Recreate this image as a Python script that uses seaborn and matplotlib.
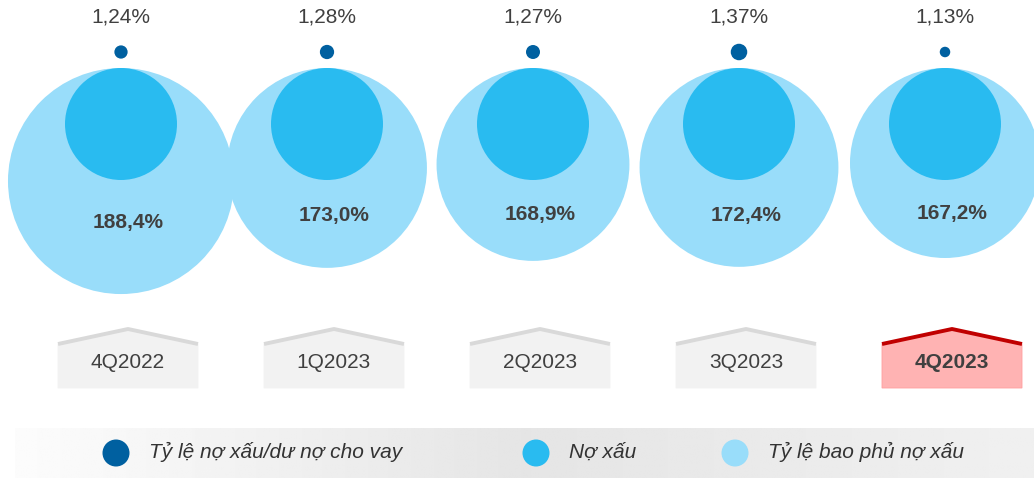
import numpy as np
import matplotlib.pyplot as plt
import seaborn as sns
from matplotlib.patches import Circle, Polygon

sns.set_theme(style="white")
plt.rcParams['font.family'] = ['Liberation Sans', 'DejaVu Sans']

# data
quarters = ['4Q2022', '1Q2023', '2Q2023', '3Q2023', '4Q2023']
npl_ratio = [1.24, 1.28, 1.27, 1.37, 1.13]          # Tỷ lệ nợ xấu/dư nợ cho vay (%)
coverage = [188.4, 173.0, 168.9, 172.4, 167.2]      # Tỷ lệ bao phủ nợ xấu (%)
legend_labels = ['Tỷ lệ nợ xấu/dư nợ cho vay', 'Nợ xấu', 'Tỷ lệ bao phủ nợ xấu']

dark, mid, light = '#0060a0', '#29bbf0', '#99ddfa'
txt = '#404040'

def fmt(v, d):
    return f'{v:.{d}f}'.replace('.', ',') + '%'

fig = plt.figure(figsize=(10.34, 4.78), dpi=100)
ax = fig.add_axes([0, 0, 1, 1])
ax.set_xlim(0, 1034)
ax.set_ylim(478, 0)
ax.set_aspect('equal')
ax.axis('off')

step = 206
for i, q in enumerate(quarters):
    cx = 121 + i * step
    # coverage bubble, tangent at top with the NPL bubble
    r_big = 95 + (coverage[i] - 167.2) * 0.85
    ax.add_patch(Circle((cx, 68 + r_big), r_big, color=light, lw=0, zorder=1))
    ax.add_patch(Circle((cx, 124), 56, color=mid, lw=0, zorder=2))
    r_dot = 7 + 12.5 * (npl_ratio[i] - 1.27)
    ax.add_patch(Circle((cx, 52), r_dot, color=dark, lw=0, zorder=3))

    ax.text(cx, 17, fmt(npl_ratio[i], 2), ha='center', va='center', fontsize=15, color=txt)
    ax.text(cx + 7, 216 + (r_big - 100) * 0.5, fmt(coverage[i], 1), ha='center',
            va='center', fontsize=15, fontweight='bold', color=txt, zorder=4)

    # house-shaped period label
    hx = cx + 7
    x0, x1 = hx - 70, hx + 70
    last = i == len(quarters) - 1
    face = '#ffb3b3' if last else '#f2f2f2'
    roof = '#c00000' if last else '#d9d9d9'
    ax.add_patch(Polygon([(x0, 388), (x0, 344), (hx, 329), (x1, 344), (x1, 388)],
                         closed=True, facecolor=face, edgecolor='#ff9f9f' if last else '#f2f2f2',
                         lw=0.6, zorder=1))
    ax.plot([x0, hx, x1], [344, 329, 344], color=roof, lw=2.8, solid_capstyle='butt', zorder=2)
    ax.text(hx, 363, q, ha='center', va='center', fontsize=15, color=txt,
            fontweight='bold' if last else 'normal', zorder=3)

# legend band with soft gradient
xs = np.linspace(0, 1, 400)
shade = np.interp(xs, [0, 0.5, 1], [252, 229, 240]) / 255
grad = np.tile(shade, (2, 1))
ax.imshow(grad, cmap='gray', vmin=0, vmax=1, extent=(15, 1034, 478, 428),
          aspect='auto', zorder=0)
ax.set_xlim(0, 1034)
ax.set_ylim(478, 0)

for lx, col, lab in zip([116, 536, 735], [dark, mid, light], legend_labels):
    ax.add_patch(Circle((lx, 453), 13.5, color=col, lw=0, zorder=2))
    ax.text(lx + 33, 452, lab, ha='left', va='center', fontsize=15, style='italic',
            color='#333333', zorder=3)

fig.savefig('out.png', dpi=100)
